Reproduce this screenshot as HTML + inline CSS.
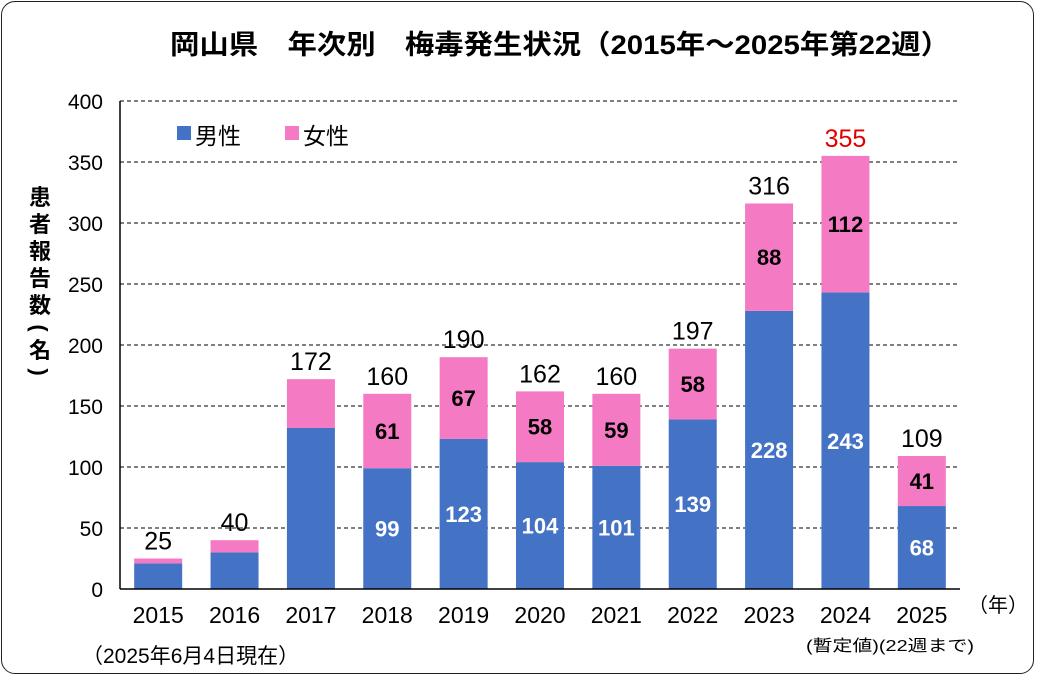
<!DOCTYPE html>
<html><head><meta charset="utf-8"><style>
body{margin:0;background:#fff;}
#frame{position:absolute;left:1px;top:1px;width:1033px;height:673px;border:1.5px solid #222;border-radius:14px;box-sizing:border-box;}
svg{position:absolute;left:0;top:0;}
text{font-family:"Liberation Sans","Noto Sans CJK JP",sans-serif;}
</style></head><body>
<div id="frame"></div>
<svg id="chart" width="1037" height="677">
<text x="170" y="54" font-size="27" font-weight="bold" textLength="780" lengthAdjust="spacingAndGlyphs">岡山県　年次別　梅毒発生状況（2015年～2025年第22週）</text>
<g>
<rect x="177" y="126" width="14" height="14" fill="#4472c4"/>
<text x="195" y="144" font-size="23">男性</text>
<rect x="285" y="126" width="14" height="14" fill="#f57ac4"/>
<text x="303" y="144" font-size="23">女性</text>
</g>
<g font-size="22" font-weight="bold">
<text x="40" y="205" text-anchor="middle">患</text>
<text x="40" y="232" text-anchor="middle">者</text>
<text x="40" y="259" text-anchor="middle">報</text>
<text x="40" y="286" text-anchor="middle">告</text>
<text x="40" y="313" text-anchor="middle">数</text>
<text x="40" y="336" text-anchor="middle" transform="rotate(90 40 328)">(</text>
<text x="40" y="358" text-anchor="middle">名</text>
<text x="40" y="380" text-anchor="middle" transform="rotate(90 40 372)">)</text>
</g>
<text x="968" y="612" font-size="20">（年）</text>
<text x="82" y="663" font-size="21">（2025年6月4日現在）</text>
<text x="806" y="651" font-size="16" textLength="168" lengthAdjust="spacingAndGlyphs">(暫定値)(22週まで)</text>
<g id="plot"></g>
</svg>
<script>
const categories=["2015","2016","2017","2018","2019","2020","2021","2022","2023","2024","2025"];
const male=[21,30,132,99,123,104,101,139,228,243,68];
const female=[4,10,40,61,67,58,59,58,88,112,41];
const showInner=[false,false,false,true,true,true,true,true,true,true,true];
const yTicks=[0,50,100,150,200,250,300,350,400];
const NS="http://www.w3.org/2000/svg";
const X0=120,X1=960,Y0=589,Y1=101,YMAX=400;
const band=(X1-X0)/categories.length;
const xC=i=>X0+band*(i+0.5);
const y=v=>Y0-(Y0-Y1)*v/YMAX;
const g=document.getElementById('plot');
function mk(t,a,txt){const e=document.createElementNS(NS,t);for(const k in a)e.setAttribute(k,a[k]);if(txt!==undefined)e.textContent=txt;g.appendChild(e);return e;}
yTicks.forEach(v=>{
 if(v>0){const l=mk('line',{x1:X0,x2:X1,y1:y(v),y2:y(v),stroke:'#000','stroke-width':1,'stroke-dasharray':'4,3'});
 
 }
 const t=mk('text',{x:103,y:y(v)+8,'text-anchor':'end','font-size':21},String(v));
 
 
});
const bw=48;
categories.forEach((c,i)=>{
 const tot=male[i]+female[i];
 const m=mk('rect',{x:xC(i)-bw/2,y:y(male[i]),width:bw,height:y(0)-y(male[i]),fill:'#4472c4'});
 
 
 const f=mk('rect',{x:xC(i)-bw/2,y:y(tot),width:bw,height:y(male[i])-y(tot),fill:'#f57ac4'});
 
 
 if(showInner[i]){
  const a=mk('text',{x:xC(i),y:(y(male[i])+y(0))/2+8,'text-anchor':'middle','font-size':22,'font-weight':'bold',fill:'#fff'},String(male[i]));
  
  
  const b=mk('text',{x:xC(i),y:(y(tot)+y(male[i]))/2+8,'text-anchor':'middle','font-size':22,'font-weight':'bold',fill:'#000'},String(female[i]));
  
  
 }
 const t=mk('text',{x:xC(i),y:y(tot)-9,'text-anchor':'middle','font-size':25,fill:c==='2024'?'#e00000':'#000'},String(tot));
 
 
 const xl=mk('text',{x:xC(i),y:623,'text-anchor':'middle','font-size':23},c);
 
 
});
const ax=mk('line',{x1:X0,x2:X1,y1:Y0,y2:Y0,stroke:'#000','stroke-width':1.5});


const ay=mk('line',{x1:X0,x2:X0,y1:Y1,y2:Y0,stroke:'#000','stroke-width':1.5});


</script>
</body></html>
